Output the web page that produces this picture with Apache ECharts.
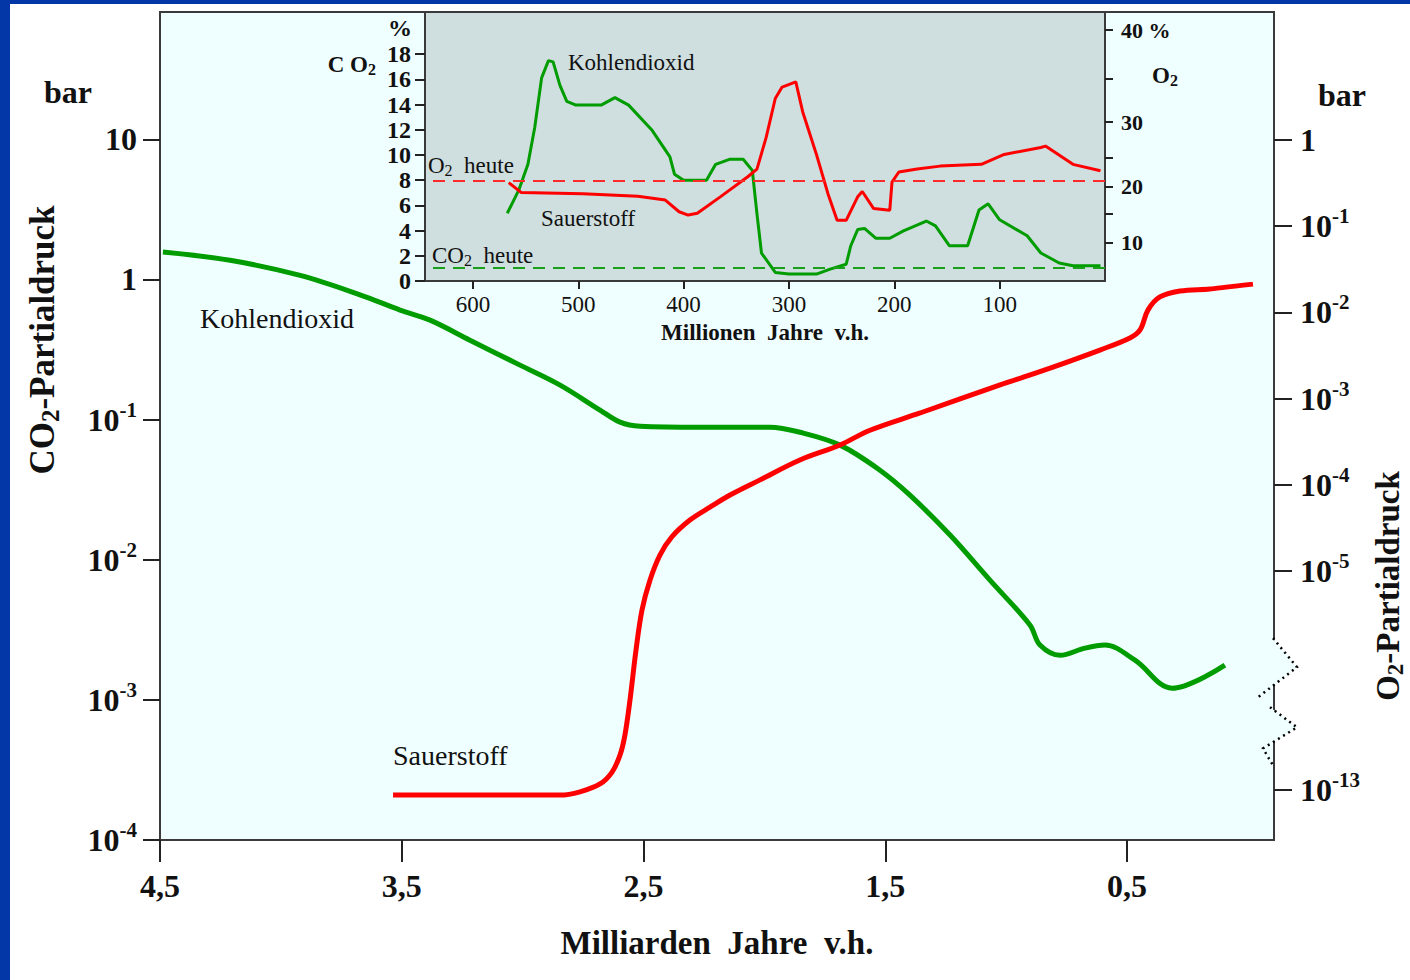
<!DOCTYPE html>
<html><head><meta charset="utf-8">
<script src="https://cdn.jsdelivr.net/npm/echarts@6/dist/echarts.min.js"></script>
<style>
html,body{margin:0;padding:0;background:#fff;}
#chart{position:absolute;left:0;top:0;width:1410px;height:980px;}
.bl{position:absolute;background:#0336a6;}
</style></head><body>
<div id="chart"></div>
<div class="bl" style="left:0;top:0;width:10px;height:980px"></div>
<div class="bl" style="left:0;top:0;width:1410px;height:4px"></div>
<script>
// ---------- DATA (main chart: Milliarden Jahre v.h.) ----------
const mainAgesCO2 = [4.488,4.21,3.92,3.67,3.507,3.383,3.218,3.011,2.845,2.68,2.597,2.514,2.266,1.977,1.853,1.687,1.522,1.398,1.232,1.067,0.901,0.860,0.777,0.674,0.591,0.467,0.314,0.095];
const mainCO2Bar   = [1.57,1.37,1.07,0.774,0.605,0.513,0.369,0.245,0.176,0.117,0.096,0.0898,0.0883,0.0883,0.0813,0.0657,0.0436,0.0289,0.0150,0.00714,0.00341,0.00246,0.00208,0.00234,0.00246,0.00192,0.00121,0.00177];
const mainAgesO2  = [3.536,2.845,2.763,2.68,2.630,2.597,2.577,2.556,2.531,2.506,2.473,2.432,2.382,2.308,2.225,2.142,2.018,1.853,1.687,1.563,1.356,1.025,0.818,0.612,0.488,0.446,0.413,0.364,0.281,0.157,-0.021];
const mainO2Bar   = [8.7e-14,8.7e-14,9.5e-14,1.65e-13,4.5e-13,1.9e-12,1.0e-11,1.9e-10,1.3e-8,3.8e-7,4.7e-6,1.53e-5,2.5e-5,3.9e-5,5.5e-5,7.6e-5,1.14e-4,1.94e-4,2.9e-4,4.3e-4,6.8e-4,1.44e-3,2.26e-3,3.66e-3,5.05e-3,6.25e-3,0.0107,0.0151,0.0177,0.0187,0.0213];
// ---------- DATA (inset: Millionen Jahre v.h.) ----------
const insetMaCO2  = [567.4,556.5,547.8,541.3,534.8,528.3,523.9,517.4,510.9,502.2,478.3,465.2,452.2,430.4,413,408.7,400,378.3,369.6,356.5,343.5,334.8,330.4,326.1,313,300,273.9,260.9,245.7,241.3,234.8,228.3,217.4,204.3,191.3,169.6,160.9,147.8,130.4,119.6,110.9,100,73.9,60.9,43.5,30.4,4.3];
const insetCO2Pct = [5.38,7.21,9.26,12.20,16.12,17.49,17.39,15.53,14.26,13.96,13.96,14.55,13.96,12.01,9.85,8.48,7.99,7.99,9.26,9.66,9.66,8.78,5.35,2.22,0.68,0.55,0.55,0.94,1.33,2.80,4.08,4.17,3.39,3.39,3.98,4.76,4.37,2.80,2.80,5.64,6.13,4.86,3.59,2.22,1.43,1.21,1.21];
const insetMaO2   = [566,554,495.7,443.5,417.4,404.3,395.7,387,365.2,339.1,330.4,321.7,313,306.5,293.5,287,273.9,263,254.3,245.7,234.8,230.4,219.6,204.3,202.2,195.7,178.3,156.5,117.4,95.7,60.9,56.5,30.4,4.3];
const insetO2Pct  = [20.7,18.9,18.7,18.2,17.5,15.3,14.7,15.0,18.1,21.7,23.0,27.8,32.7,34.0,34.6,31.2,25.4,18.7,13.8,13.8,18.1,19.1,15.9,15.6,20.8,22.5,23.0,23.5,23.8,25.4,26.4,26.6,23.8,22.7];
const co2TodayPct = 1.06;
const o2TodayPct  = 21;
// ---------- TICKS ----------
const mainXTicks    = [4.5,3.5,2.5,1.5,0.5];
const mainCO2Ticks  = [1e-4,1e-3,1e-2,1e-1,1,10];
const mainO2Ticks   = [1,1e-1,1e-2,1e-3,1e-4,1e-5,1e-13];
const insetXTicks   = [600,500,400,300,200,100];
const insetCO2Ticks = [0,2,4,6,8,10,12,14,16,18];
const insetO2Ticks  = [10,15,20,25,30,35,40];
const insetO2Labels = [10,20,30,40];

// ---------- SCALES ----------
const lg = v => Math.round(Math.log10(v)*1000)/1000;
// main O2 axis: log scale with a break between 1e-5 and 1e-13
const BRK_HI=-5, BRK_LO=-13, BRK_SPAN=2.54;
function o2MainPos(v){const e=lg(v); if(e>=BRK_HI) return e; if(e<=BRK_LO) return e+(BRK_HI-BRK_LO)-BRK_SPAN; return BRK_HI+(e-BRK_HI)*BRK_SPAN/(BRK_HI-BRK_LO);}
function o2MainInv(u){ if(u>=BRK_HI) return u; const lo=BRK_HI-BRK_SPAN; if(u<=lo) return u-(BRK_HI-BRK_LO)+BRK_SPAN; return BRK_HI+(u-BRK_HI)*(BRK_HI-BRK_LO)/BRK_SPAN;}
// inset O2 axis (non-linear as drawn): O2 % knots -> position in inset-axis units
const O2_KNOT_POS = [3.07,5.37,7.48,9.82,12.60,16.09,19.92];
function o2InsetPos(p){const k=insetO2Ticks;for(let i=0;i<k.length-1;i++){if(p<=k[i+1]||i===k.length-2){const t=(p-k[i])/(k[i+1]-k[i]);return O2_KNOT_POS[i]+t*(O2_KNOT_POS[i+1]-O2_KNOT_POS[i]);}}}
function o2InsetInv(u){let best=0,d=1e9;insetO2Ticks.forEach(t=>{const dd=Math.abs(o2InsetPos(t)-u);if(dd<d){d=dd;best=t;}});return best;}

const serif='"Liberation Serif","DejaVu Serif",serif';
const INK='#111';
const supRich={s:{fontFamily:serif,fontWeight:'bold',fontSize:21,color:INK,padding:[0,0,20,0]}};
function powLabel(e){e=Math.round(e); if(e===1) return '10'; if(e===0) return '1'; return '10{s|'+e+'}';}
const noLine={show:false,onZero:false};
const tickStyle={color:'#222',width:2};

const chart=echarts.init(document.getElementById('chart'),null,{renderer:'svg'});
const option={
  animation:false,
  backgroundColor:'transparent',
  grid:[
    {left:160,top:12,width:1114,height:828,show:true,backgroundColor:'#effefe',borderColor:'#3a3a3a',borderWidth:2},
    {left:425,top:12,width:680,height:269,show:true,backgroundColor:'#cfdede',borderColor:'#3a3a3a',borderWidth:2}
  ],
  xAxis:[
    {gridIndex:0,type:'value',min:-0.108,max:4.5,inverse:true,position:'bottom',
     axisLine:noLine,splitLine:{show:false},
     axisTick:{show:true,inside:false,customValues:mainXTicks,length:22,lineStyle:tickStyle},
     axisLabel:{customValues:mainXTicks,formatter:v=>String(v).replace('.',','),fontFamily:serif,fontWeight:'bold',fontSize:32,color:INK,margin:30},
     name:'Milliarden  Jahre  v.h.',nameLocation:'middle',nameGap:86,
     nameTextStyle:{fontFamily:serif,fontWeight:'bold',fontSize:33,color:INK}},
    {gridIndex:1,type:'value',min:0,max:645.5,inverse:true,position:'bottom',
     axisLine:noLine,splitLine:{show:false},
     axisTick:{show:true,inside:false,customValues:insetXTicks,length:8,lineStyle:tickStyle},
     axisLabel:{customValues:insetXTicks,fontFamily:serif,fontSize:23,color:INK,margin:12},
     name:'Millionen  Jahre  v.h.',nameLocation:'middle',nameGap:40,
     nameTextStyle:{fontFamily:serif,fontWeight:'bold',fontSize:23,color:INK}}
  ],
  yAxis:[
    {gridIndex:0,type:'value',position:'left',min:-4,max:1.909,
     axisLine:noLine,splitLine:{show:false},
     axisTick:{show:true,inside:false,customValues:mainCO2Ticks.map(lg),length:17,lineStyle:tickStyle},
     axisLabel:{customValues:mainCO2Ticks.map(lg),formatter:v=>powLabel(v),rich:supRich,fontFamily:serif,fontWeight:'bold',fontSize:32,color:INK,margin:23}},
    {gridIndex:0,type:'value',position:'right',min:-8.121,max:1.485,
     axisLine:noLine,splitLine:{show:false},
     axisTick:{show:true,inside:false,customValues:mainO2Ticks.map(o2MainPos),length:18,lineStyle:tickStyle},
     axisLabel:{customValues:mainO2Ticks.map(o2MainPos),formatter:v=>powLabel(o2MainInv(v)),rich:supRich,fontFamily:serif,fontWeight:'bold',fontSize:32,color:INK,margin:26}},
    {gridIndex:1,type:'value',position:'left',min:0,max:21.35,
     axisLine:noLine,splitLine:{show:false},
     axisTick:{show:true,inside:false,customValues:insetCO2Ticks,length:10,lineStyle:tickStyle},
     axisLabel:{customValues:insetCO2Ticks,fontFamily:serif,fontWeight:'bold',fontSize:24,color:INK,margin:14}},
    {gridIndex:1,type:'value',position:'right',min:0,max:21.35,
     axisLine:noLine,splitLine:{show:false},
     axisTick:{show:true,inside:false,customValues:insetO2Ticks.map(o2InsetPos),length:8,lineStyle:tickStyle},
     axisLabel:{customValues:insetO2Labels.map(o2InsetPos),formatter:v=>{const p=o2InsetInv(v);return p===40?'40 {p|%}':String(p);},
       rich:{p:{fontFamily:serif,fontSize:22,color:INK}},fontFamily:serif,fontWeight:'bold',fontSize:22,color:INK,margin:16}}
  ],
  series:[
    {name:'Kohlendioxid',type:'line',xAxisIndex:0,yAxisIndex:0,showSymbol:false,smooth:0.35,
     data:mainAgesCO2.map((a,i)=>[a,lg(mainCO2Bar[i])]),lineStyle:{color:'#009c00',width:5},z:3},
    {name:'Sauerstoff',type:'line',xAxisIndex:0,yAxisIndex:1,showSymbol:false,smooth:0.35,
     data:mainAgesO2.map((a,i)=>[a,o2MainPos(mainO2Bar[i])]),lineStyle:{color:'#ff0000',width:5},z:3},
    {name:'CO2 inset',type:'line',xAxisIndex:1,yAxisIndex:2,showSymbol:false,
     data:insetMaCO2.map((a,i)=>[a,insetCO2Pct[i]]),lineStyle:{color:'#009c00',width:3},z:4,
     markLine:{silent:true,symbol:'none',label:{show:false},lineStyle:{color:'#1aa01a',type:[12,8],width:2},data:[{yAxis:co2TodayPct}]}},
    {name:'O2 inset',type:'line',xAxisIndex:1,yAxisIndex:3,showSymbol:false,
     data:insetMaO2.map((a,i)=>[a,o2InsetPos(insetO2Pct[i])]),lineStyle:{color:'#ff0000',width:3},z:4,
     markLine:{silent:true,symbol:'none',label:{show:false},lineStyle:{color:'#ff2a2a',type:[12,8],width:2},data:[{yAxis:o2InsetPos(o2TodayPct)}]}}
  ]
};
chart.setOption(option);

// ---------- annotations ----------
const subRich=(fs,bold)=>({b:{fontFamily:serif,fontSize:Math.round(fs*0.7),fontWeight:bold?'bold':'normal',color:INK,padding:[Math.round(fs*0.45),0,0,0]}});
function txt(x,y,text,fs,bold,align,rot){
  return {type:'text',x:x,y:y,rotation:rot||0,z:50,silent:true,
    style:{text:text,fontFamily:serif,fontSize:fs,fontWeight:bold?'bold':'normal',fill:INK,
      align:align||'left',verticalAlign:'middle',rich:subRich(fs,bold)}};
}
const g=[
  txt(68,92,'bar',32,true,'center'),
  txt(1342,95,'bar',32,true,'center'),
  txt(42,340,'CO{b|2}-Partialdruck',35,true,'center',Math.PI/2),
  txt(1388,586,'O{b|2}-Partialdruck',33,true,'center',Math.PI/2),
  txt(200,318,'Kohlendioxid',28,false,'left'),
  txt(393,755,'Sauerstoff',28,false,'left'),
  txt(400,28,'%',24,true,'center'),
  txt(376,64,'C O{b|2}',23,true,'right'),
  txt(1152,75,'O{b|2}',23,true,'left'),
  txt(568,62,'Kohlendioxid',23,false,'left'),
  txt(541,218,'Sauerstoff',23,false,'left'),
  txt(428,165,'O{b|2}  heute',23,false,'left'),
  txt(432,255,'CO{b|2}  heute',23,false,'left')
];
// axis-break zigzag on the O2 axis (decoration derived from the axis)
const xr=chart.convertToPixel({xAxisIndex:0},-0.108);
const py=u=>chart.convertToPixel({yAxisIndex:1},u);
const zA=[[-1,-5.779],[23,-6.116],[-16,-6.465]].map(p=>[xr+p[0],py(p[1])]);
const zB=[[-4,-6.58],[23,-6.814],[-11,-7.058],[-1,-7.256]].map(p=>[xr+p[0],py(p[1])]);
g.push({type:'polygon',z:40,silent:true,shape:{points:zA.concat(zB.slice().reverse())},style:{fill:'#effefe',stroke:null}});
g.push({type:'polyline',z:41,silent:true,shape:{points:zA},style:{stroke:'#000',lineWidth:2.5,lineDash:[2,4],fill:null}});
g.push({type:'polyline',z:41,silent:true,shape:{points:zB},style:{stroke:'#000',lineWidth:2.5,lineDash:[2,4],fill:null}});
chart.setOption({graphic:g});
</script>
</body></html>
